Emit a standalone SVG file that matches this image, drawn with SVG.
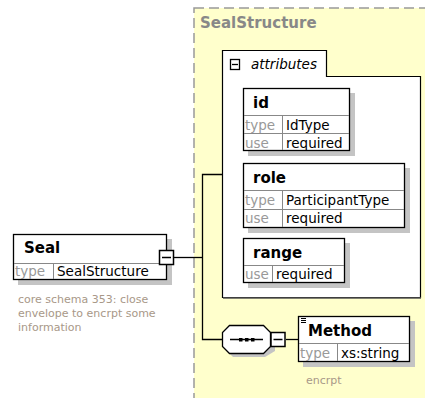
<svg xmlns="http://www.w3.org/2000/svg" width="425" height="398" viewBox="0 0 425 398">
<style>
.box{fill:#fff;stroke:#000;stroke-width:1.3}
.sh{fill:#c4c4c4}
.row{fill:none;stroke:#888;stroke-width:1}
.nm{font-family:Tahoma,"DejaVu Sans",sans-serif;font-weight:bold;font-size:15px;fill:#000}
.lbl{font-family:Tahoma,"DejaVu Sans",sans-serif;font-size:13.5px;fill:#999}
.val{font-family:Tahoma,"DejaVu Sans",sans-serif;font-size:13.5px;fill:#000}
.doc{font-family:Tahoma,"DejaVu Sans",sans-serif;font-size:11px;fill:#a89888}
.ln{fill:none;stroke:#000;stroke-width:1.3}
.mi{fill:#fff;stroke:#000;stroke-width:1.5}
</style>
<rect width="425" height="398" fill="#fff"/>
<g id="SealStructure">
<rect x="194" y="8" width="240" height="400" fill="#ffffcc" stroke="#999" stroke-width="1.5" stroke-dasharray="10,5"/>
<text x="200" y="28" font-family="Tahoma,'DejaVu Sans',sans-serif" font-weight="bold" font-size="15" fill="#888">SealStructure</text>
</g>
<g id="attributes">
<path d="M222.5,50.5 H326.5 V76.5 H420.5 V297.5 H222.5 Z" fill="#fff" stroke="#000" stroke-width="1.2"/>
<line x1="223" y1="298" x2="421" y2="298" stroke="#555" stroke-width="1.5"/>
<rect x="230.5" y="59.5" width="9" height="10" fill="#fff" stroke="#000" stroke-width="1.3"/>
<line x1="232" y1="64.5" x2="238" y2="64.5" stroke="#000" stroke-width="1.3"/>
<text x="251" y="69" font-family="Tahoma,'DejaVu Sans',sans-serif" font-style="italic" font-size="13.5" fill="#000">attributes</text>
</g>
<g id="connectors">
<polyline class="ln" points="174,257.5 202.5,257.5"/>
<polyline class="ln" points="222,174.5 202.5,174.5 202.5,339.5 222,339.5"/>
<line class="ln" x1="286" y1="339.5" x2="298" y2="339.5"/>
</g>
<g id="id">
<rect class="sh" x="248" y="93" width="107" height="63"/>
<rect class="box" x="243.5" y="88.5" width="106" height="62"/>
<line class="row" x1="244" y1="115.5" x2="349" y2="115.5"/>
<line class="row" x1="244" y1="133.5" x2="349" y2="133.5"/>
<line class="row" x1="282.5" y1="116" x2="282.5" y2="150"/>
<text class="nm" x="253" y="108">id</text>
<text class="lbl" x="245" y="130">type</text>
<text class="val" x="286" y="130">IdType</text>
<text class="lbl" x="245" y="148">use</text>
<text class="val" x="286" y="148">required</text>
</g>
<g id="role">
<rect class="sh" x="248" y="168" width="162" height="65"/>
<rect class="box" x="243.5" y="163.5" width="161" height="64"/>
<line class="row" x1="244" y1="190.5" x2="404" y2="190.5"/>
<line class="row" x1="244" y1="209.5" x2="404" y2="209.5"/>
<line class="row" x1="282.5" y1="191" x2="282.5" y2="227"/>
<text class="nm" x="253" y="183">role</text>
<text class="lbl" x="245" y="205">type</text>
<text class="val" x="286" y="205">ParticipantType</text>
<text class="lbl" x="245" y="223">use</text>
<text class="val" x="286" y="223">required</text>
</g>
<g id="range">
<rect class="sh" x="248" y="243" width="102" height="45"/>
<rect class="box" x="243.5" y="238.5" width="101" height="44"/>
<line class="row" x1="244" y1="265.5" x2="344" y2="265.5"/>
<line class="row" x1="272.5" y1="266" x2="272.5" y2="282"/>
<text class="nm" x="253" y="258">range</text>
<text class="lbl" x="245" y="279">use</text>
<text class="val" x="276" y="279">required</text>
</g>
<g id="Seal">
<rect class="sh" x="18" y="239" width="154" height="46"/>
<rect class="box" x="13.5" y="234.5" width="153" height="45"/>
<line class="row" x1="14" y1="263.5" x2="166" y2="263.5"/>
<line class="row" x1="53.5" y1="264" x2="53.5" y2="279"/>
<text class="nm" x="24" y="253">Seal</text>
<text class="lbl" x="15" y="276">type</text>
<text class="val" x="57" y="276">SealStructure</text>
<rect class="mi" x="159.5" y="250.5" width="14" height="14"/>
<line x1="162" y1="257.5" x2="171" y2="257.5" stroke="#000" stroke-width="1.5"/>
<text class="doc" x="18" y="303">core schema 353: close</text>
<text class="doc" x="18" y="317">envelope to encrpt some</text>
<text class="doc" x="18" y="331">information</text>
</g>
<g id="sequence">
<polygon points="233,329 265,329 275,335 275,351 265,357 233,357 227,351 227,335" class="sh"/>
<polygon points="229.5,325.5 263.5,325.5 270.5,332.5 270.5,346.5 263.5,353.5 229.5,353.5 222.5,346.5 222.5,332.5" fill="#fff" stroke="#000" stroke-width="1.3"/>
<line x1="230" y1="339.5" x2="263" y2="339.5" stroke="#000" stroke-width="1.3"/>
<rect x="239" y="338" width="3.5" height="3.5" fill="#000"/>
<rect x="245" y="338" width="3.5" height="3.5" fill="#000"/>
<rect x="251" y="338" width="3.5" height="3.5" fill="#000"/>
<rect class="mi" x="271" y="332.5" width="14" height="14"/>
<line x1="273.5" y1="339.5" x2="282.5" y2="339.5" stroke="#000" stroke-width="1.5"/>
</g>
<g id="Method">
<rect class="sh" x="303" y="321" width="112" height="46"/>
<rect class="box" x="298.5" y="316.5" width="111" height="45"/>
<line class="row" x1="299" y1="343.5" x2="409" y2="343.5"/>
<line class="row" x1="337.5" y1="344" x2="337.5" y2="361"/>
<line x1="301" y1="318.5" x2="306" y2="318.5" stroke="#000"/>
<line x1="301" y1="320.5" x2="306" y2="320.5" stroke="#000"/>
<line x1="301" y1="322.5" x2="306" y2="322.5" stroke="#000"/>
<text class="nm" x="308" y="336">Method</text>
<text class="lbl" x="300" y="358">type</text>
<text class="val" x="341" y="358">xs:string</text>
<text class="doc" x="306" y="384">encrpt</text>
</g>
</svg>
